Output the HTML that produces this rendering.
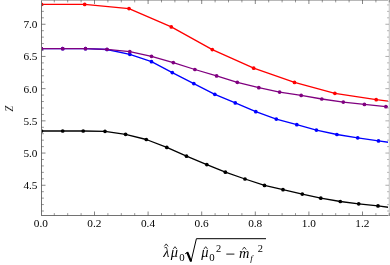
<!DOCTYPE html><html><head><meta charset="utf-8"><style>html,body{margin:0;padding:0;background:#fff;}svg{display:block}text{font-family:"Liberation Serif",serif;fill:#000}</style></head><body>
<svg style="will-change:transform" width="390" height="265" viewBox="0 0 390 265">
<rect width="390" height="265" fill="#fff"/>
<defs><clipPath id="pc"><rect x="41.5" y="0" width="349" height="215.5"/></clipPath></defs>
<g clip-path="url(#pc)">
<polyline fill="none" stroke="#000" stroke-width="1.3" stroke-linejoin="round" points="41.5,131.0 62.7,131.0 83.2,131.0 105.0,131.3 125.6,134.3 146.3,139.5 166.8,147.4 186.5,156.2 206.8,164.6 225.4,172.2 245.0,179.0 264.5,185.4 283.0,189.7 302.3,194.1 320.8,198.2 340.3,201.5 358.7,203.8 378.0,205.9 390.0,207.5"/>
<circle cx="41.5" cy="131.0" r="1.85" fill="#000"/>
<circle cx="62.7" cy="131.0" r="1.85" fill="#000"/>
<circle cx="83.2" cy="131.0" r="1.85" fill="#000"/>
<circle cx="105.0" cy="131.3" r="1.85" fill="#000"/>
<circle cx="125.6" cy="134.3" r="1.85" fill="#000"/>
<circle cx="146.3" cy="139.5" r="1.85" fill="#000"/>
<circle cx="166.8" cy="147.4" r="1.85" fill="#000"/>
<circle cx="186.5" cy="156.2" r="1.85" fill="#000"/>
<circle cx="206.8" cy="164.6" r="1.85" fill="#000"/>
<circle cx="225.4" cy="172.2" r="1.85" fill="#000"/>
<circle cx="245.0" cy="179.0" r="1.85" fill="#000"/>
<circle cx="264.5" cy="185.4" r="1.85" fill="#000"/>
<circle cx="283.0" cy="189.7" r="1.85" fill="#000"/>
<circle cx="302.3" cy="194.1" r="1.85" fill="#000"/>
<circle cx="320.8" cy="198.2" r="1.85" fill="#000"/>
<circle cx="340.3" cy="201.5" r="1.85" fill="#000"/>
<circle cx="358.7" cy="203.8" r="1.85" fill="#000"/>
<circle cx="378.0" cy="205.9" r="1.85" fill="#000"/>
<polyline fill="none" stroke="#0000ff" stroke-width="1.3" stroke-linejoin="round" points="41.5,48.7 62.7,48.7 85.5,48.7 107.0,49.5 129.8,54.3 151.5,61.7 172.3,72.6 193.8,83.6 214.8,94.3 235.3,102.9 255.8,111.7 276.3,119.1 296.8,124.7 316.4,130.1 336.9,134.5 357.7,137.8 378.5,140.9 390.0,142.5"/>
<circle cx="41.5" cy="48.7" r="1.85" fill="#0000ff"/>
<circle cx="62.7" cy="48.7" r="1.85" fill="#0000ff"/>
<circle cx="85.5" cy="48.7" r="1.85" fill="#0000ff"/>
<circle cx="107.0" cy="49.5" r="1.85" fill="#0000ff"/>
<circle cx="129.8" cy="54.3" r="1.85" fill="#0000ff"/>
<circle cx="151.5" cy="61.7" r="1.85" fill="#0000ff"/>
<circle cx="172.3" cy="72.6" r="1.85" fill="#0000ff"/>
<circle cx="193.8" cy="83.6" r="1.85" fill="#0000ff"/>
<circle cx="214.8" cy="94.3" r="1.85" fill="#0000ff"/>
<circle cx="235.3" cy="102.9" r="1.85" fill="#0000ff"/>
<circle cx="255.8" cy="111.7" r="1.85" fill="#0000ff"/>
<circle cx="276.3" cy="119.1" r="1.85" fill="#0000ff"/>
<circle cx="296.8" cy="124.7" r="1.85" fill="#0000ff"/>
<circle cx="316.4" cy="130.1" r="1.85" fill="#0000ff"/>
<circle cx="336.9" cy="134.5" r="1.85" fill="#0000ff"/>
<circle cx="357.7" cy="137.8" r="1.85" fill="#0000ff"/>
<circle cx="378.5" cy="140.9" r="1.85" fill="#0000ff"/>
<polyline fill="none" stroke="#800080" stroke-width="1.3" stroke-linejoin="round" points="41.5,48.7 62.7,48.7 85.5,48.7 107.0,49.3 129.8,51.7 151.5,56.3 173.3,62.6 194.9,69.5 216.6,75.9 237.3,82.3 258.8,87.7 279.6,92.1 301.2,95.4 321.8,99.0 343.3,102.1 364.4,104.4 385.9,106.7 390.0,107.1"/>
<circle cx="41.5" cy="48.7" r="1.85" fill="#800080"/>
<circle cx="62.7" cy="48.7" r="1.85" fill="#800080"/>
<circle cx="85.5" cy="48.7" r="1.85" fill="#800080"/>
<circle cx="107.0" cy="49.3" r="1.85" fill="#800080"/>
<circle cx="129.8" cy="51.7" r="1.85" fill="#800080"/>
<circle cx="151.5" cy="56.3" r="1.85" fill="#800080"/>
<circle cx="173.3" cy="62.6" r="1.85" fill="#800080"/>
<circle cx="194.9" cy="69.5" r="1.85" fill="#800080"/>
<circle cx="216.6" cy="75.9" r="1.85" fill="#800080"/>
<circle cx="237.3" cy="82.3" r="1.85" fill="#800080"/>
<circle cx="258.8" cy="87.7" r="1.85" fill="#800080"/>
<circle cx="279.6" cy="92.1" r="1.85" fill="#800080"/>
<circle cx="301.2" cy="95.4" r="1.85" fill="#800080"/>
<circle cx="321.8" cy="99.0" r="1.85" fill="#800080"/>
<circle cx="343.3" cy="102.1" r="1.85" fill="#800080"/>
<circle cx="364.4" cy="104.4" r="1.85" fill="#800080"/>
<circle cx="385.9" cy="106.7" r="1.85" fill="#800080"/>
<polyline fill="none" stroke="#ff0000" stroke-width="1.3" stroke-linejoin="round" points="41.5,4.4 84.7,4.4 129.0,8.6 171.3,26.9 212.3,49.6 253.7,68.2 294.5,82.4 334.9,93.3 376.2,99.7 390.0,101.4"/>
<circle cx="41.5" cy="4.4" r="1.85" fill="#ff0000"/>
<circle cx="84.7" cy="4.4" r="1.85" fill="#ff0000"/>
<circle cx="129.0" cy="8.6" r="1.85" fill="#ff0000"/>
<circle cx="171.3" cy="26.9" r="1.85" fill="#ff0000"/>
<circle cx="212.3" cy="49.6" r="1.85" fill="#ff0000"/>
<circle cx="253.7" cy="68.2" r="1.85" fill="#ff0000"/>
<circle cx="294.5" cy="82.4" r="1.85" fill="#ff0000"/>
<circle cx="334.9" cy="93.3" r="1.85" fill="#ff0000"/>
<circle cx="376.2" cy="99.7" r="1.85" fill="#ff0000"/>
</g>
<g stroke="#727272" stroke-width="1" fill="none">
<line x1="41.5" y1="0" x2="41.5" y2="216.0"/>
<line x1="41.0" y1="215.5" x2="390" y2="215.5"/>
</g>
<line x1="41.5" y1="0.5" x2="390" y2="0.5" stroke="#b8b8b8" stroke-width="1"/>
<line x1="389.5" y1="0" x2="389.5" y2="215.5" stroke="#d0d0d0" stroke-width="1"/>
<line x1="388.5" y1="0" x2="388.5" y2="215.5" stroke="#f0f0f0" stroke-width="1"/>
<g stroke="#505050" fill="none">
<line x1="54.30" y1="215.5" x2="54.30" y2="213.1" stroke-width="0.6"/>
<line x1="54.30" y1="0.0" x2="54.30" y2="2.4" stroke-width="0.6"/>
<line x1="67.70" y1="215.5" x2="67.70" y2="213.1" stroke-width="0.6"/>
<line x1="67.70" y1="0.0" x2="67.70" y2="2.4" stroke-width="0.6"/>
<line x1="81.10" y1="215.5" x2="81.10" y2="213.1" stroke-width="0.6"/>
<line x1="81.10" y1="0.0" x2="81.10" y2="2.4" stroke-width="0.6"/>
<line x1="94.50" y1="215.5" x2="94.50" y2="211.5" stroke-width="0.7"/>
<line x1="94.50" y1="0.0" x2="94.50" y2="4.0" stroke-width="0.7"/>
<line x1="107.90" y1="215.5" x2="107.90" y2="213.1" stroke-width="0.6"/>
<line x1="107.90" y1="0.0" x2="107.90" y2="2.4" stroke-width="0.6"/>
<line x1="121.30" y1="215.5" x2="121.30" y2="213.1" stroke-width="0.6"/>
<line x1="121.30" y1="0.0" x2="121.30" y2="2.4" stroke-width="0.6"/>
<line x1="134.70" y1="215.5" x2="134.70" y2="213.1" stroke-width="0.6"/>
<line x1="134.70" y1="0.0" x2="134.70" y2="2.4" stroke-width="0.6"/>
<line x1="148.10" y1="215.5" x2="148.10" y2="211.5" stroke-width="0.7"/>
<line x1="148.10" y1="0.0" x2="148.10" y2="4.0" stroke-width="0.7"/>
<line x1="161.50" y1="215.5" x2="161.50" y2="213.1" stroke-width="0.6"/>
<line x1="161.50" y1="0.0" x2="161.50" y2="2.4" stroke-width="0.6"/>
<line x1="174.90" y1="215.5" x2="174.90" y2="213.1" stroke-width="0.6"/>
<line x1="174.90" y1="0.0" x2="174.90" y2="2.4" stroke-width="0.6"/>
<line x1="188.30" y1="215.5" x2="188.30" y2="213.1" stroke-width="0.6"/>
<line x1="188.30" y1="0.0" x2="188.30" y2="2.4" stroke-width="0.6"/>
<line x1="201.70" y1="215.5" x2="201.70" y2="211.5" stroke-width="0.7"/>
<line x1="201.70" y1="0.0" x2="201.70" y2="4.0" stroke-width="0.7"/>
<line x1="215.10" y1="215.5" x2="215.10" y2="213.1" stroke-width="0.6"/>
<line x1="215.10" y1="0.0" x2="215.10" y2="2.4" stroke-width="0.6"/>
<line x1="228.50" y1="215.5" x2="228.50" y2="213.1" stroke-width="0.6"/>
<line x1="228.50" y1="0.0" x2="228.50" y2="2.4" stroke-width="0.6"/>
<line x1="241.90" y1="215.5" x2="241.90" y2="213.1" stroke-width="0.6"/>
<line x1="241.90" y1="0.0" x2="241.90" y2="2.4" stroke-width="0.6"/>
<line x1="255.30" y1="215.5" x2="255.30" y2="211.5" stroke-width="0.7"/>
<line x1="255.30" y1="0.0" x2="255.30" y2="4.0" stroke-width="0.7"/>
<line x1="268.70" y1="215.5" x2="268.70" y2="213.1" stroke-width="0.6"/>
<line x1="268.70" y1="0.0" x2="268.70" y2="2.4" stroke-width="0.6"/>
<line x1="282.10" y1="215.5" x2="282.10" y2="213.1" stroke-width="0.6"/>
<line x1="282.10" y1="0.0" x2="282.10" y2="2.4" stroke-width="0.6"/>
<line x1="295.50" y1="215.5" x2="295.50" y2="213.1" stroke-width="0.6"/>
<line x1="295.50" y1="0.0" x2="295.50" y2="2.4" stroke-width="0.6"/>
<line x1="308.90" y1="215.5" x2="308.90" y2="211.5" stroke-width="0.7"/>
<line x1="308.90" y1="0.0" x2="308.90" y2="4.0" stroke-width="0.7"/>
<line x1="322.30" y1="215.5" x2="322.30" y2="213.1" stroke-width="0.6"/>
<line x1="322.30" y1="0.0" x2="322.30" y2="2.4" stroke-width="0.6"/>
<line x1="335.70" y1="215.5" x2="335.70" y2="213.1" stroke-width="0.6"/>
<line x1="335.70" y1="0.0" x2="335.70" y2="2.4" stroke-width="0.6"/>
<line x1="349.10" y1="215.5" x2="349.10" y2="213.1" stroke-width="0.6"/>
<line x1="349.10" y1="0.0" x2="349.10" y2="2.4" stroke-width="0.6"/>
<line x1="362.50" y1="215.5" x2="362.50" y2="211.5" stroke-width="0.7"/>
<line x1="362.50" y1="0.0" x2="362.50" y2="4.0" stroke-width="0.7"/>
<line x1="375.90" y1="215.5" x2="375.90" y2="213.1" stroke-width="0.6"/>
<line x1="375.90" y1="0.0" x2="375.90" y2="2.4" stroke-width="0.6"/>
<line x1="389.30" y1="215.5" x2="389.30" y2="213.1" stroke-width="0.6"/>
<line x1="389.30" y1="0.0" x2="389.30" y2="2.4" stroke-width="0.6"/>
<line x1="41.5" y1="211.01" x2="43.9" y2="211.01" stroke-width="0.6"/>
<line x1="389.0" y1="211.01" x2="387.0" y2="211.01" stroke-width="0.6" stroke="#8c8c8c"/>
<line x1="41.5" y1="204.57" x2="43.9" y2="204.57" stroke-width="0.6"/>
<line x1="389.0" y1="204.57" x2="387.0" y2="204.57" stroke-width="0.6" stroke="#8c8c8c"/>
<line x1="41.5" y1="198.13" x2="43.9" y2="198.13" stroke-width="0.6"/>
<line x1="389.0" y1="198.13" x2="387.0" y2="198.13" stroke-width="0.6" stroke="#8c8c8c"/>
<line x1="41.5" y1="191.69" x2="43.9" y2="191.69" stroke-width="0.6"/>
<line x1="389.0" y1="191.69" x2="387.0" y2="191.69" stroke-width="0.6" stroke="#8c8c8c"/>
<line x1="41.5" y1="185.25" x2="45.5" y2="185.25" stroke-width="0.7"/>
<line x1="389.0" y1="185.25" x2="385.4" y2="185.25" stroke-width="0.7" stroke="#8c8c8c"/>
<line x1="41.5" y1="178.81" x2="43.9" y2="178.81" stroke-width="0.6"/>
<line x1="389.0" y1="178.81" x2="387.0" y2="178.81" stroke-width="0.6" stroke="#8c8c8c"/>
<line x1="41.5" y1="172.37" x2="43.9" y2="172.37" stroke-width="0.6"/>
<line x1="389.0" y1="172.37" x2="387.0" y2="172.37" stroke-width="0.6" stroke="#8c8c8c"/>
<line x1="41.5" y1="165.93" x2="43.9" y2="165.93" stroke-width="0.6"/>
<line x1="389.0" y1="165.93" x2="387.0" y2="165.93" stroke-width="0.6" stroke="#8c8c8c"/>
<line x1="41.5" y1="159.49" x2="43.9" y2="159.49" stroke-width="0.6"/>
<line x1="389.0" y1="159.49" x2="387.0" y2="159.49" stroke-width="0.6" stroke="#8c8c8c"/>
<line x1="41.5" y1="153.05" x2="45.5" y2="153.05" stroke-width="0.7"/>
<line x1="389.0" y1="153.05" x2="385.4" y2="153.05" stroke-width="0.7" stroke="#8c8c8c"/>
<line x1="41.5" y1="146.61" x2="43.9" y2="146.61" stroke-width="0.6"/>
<line x1="389.0" y1="146.61" x2="387.0" y2="146.61" stroke-width="0.6" stroke="#8c8c8c"/>
<line x1="41.5" y1="140.17" x2="43.9" y2="140.17" stroke-width="0.6"/>
<line x1="389.0" y1="140.17" x2="387.0" y2="140.17" stroke-width="0.6" stroke="#8c8c8c"/>
<line x1="41.5" y1="133.73" x2="43.9" y2="133.73" stroke-width="0.6"/>
<line x1="389.0" y1="133.73" x2="387.0" y2="133.73" stroke-width="0.6" stroke="#8c8c8c"/>
<line x1="41.5" y1="127.29" x2="43.9" y2="127.29" stroke-width="0.6"/>
<line x1="389.0" y1="127.29" x2="387.0" y2="127.29" stroke-width="0.6" stroke="#8c8c8c"/>
<line x1="41.5" y1="120.85" x2="45.5" y2="120.85" stroke-width="0.7"/>
<line x1="389.0" y1="120.85" x2="385.4" y2="120.85" stroke-width="0.7" stroke="#8c8c8c"/>
<line x1="41.5" y1="114.41" x2="43.9" y2="114.41" stroke-width="0.6"/>
<line x1="389.0" y1="114.41" x2="387.0" y2="114.41" stroke-width="0.6" stroke="#8c8c8c"/>
<line x1="41.5" y1="107.97" x2="43.9" y2="107.97" stroke-width="0.6"/>
<line x1="389.0" y1="107.97" x2="387.0" y2="107.97" stroke-width="0.6" stroke="#8c8c8c"/>
<line x1="41.5" y1="101.53" x2="43.9" y2="101.53" stroke-width="0.6"/>
<line x1="389.0" y1="101.53" x2="387.0" y2="101.53" stroke-width="0.6" stroke="#8c8c8c"/>
<line x1="41.5" y1="95.09" x2="43.9" y2="95.09" stroke-width="0.6"/>
<line x1="389.0" y1="95.09" x2="387.0" y2="95.09" stroke-width="0.6" stroke="#8c8c8c"/>
<line x1="41.5" y1="88.65" x2="45.5" y2="88.65" stroke-width="0.7"/>
<line x1="389.0" y1="88.65" x2="385.4" y2="88.65" stroke-width="0.7" stroke="#8c8c8c"/>
<line x1="41.5" y1="82.21" x2="43.9" y2="82.21" stroke-width="0.6"/>
<line x1="389.0" y1="82.21" x2="387.0" y2="82.21" stroke-width="0.6" stroke="#8c8c8c"/>
<line x1="41.5" y1="75.77" x2="43.9" y2="75.77" stroke-width="0.6"/>
<line x1="389.0" y1="75.77" x2="387.0" y2="75.77" stroke-width="0.6" stroke="#8c8c8c"/>
<line x1="41.5" y1="69.33" x2="43.9" y2="69.33" stroke-width="0.6"/>
<line x1="389.0" y1="69.33" x2="387.0" y2="69.33" stroke-width="0.6" stroke="#8c8c8c"/>
<line x1="41.5" y1="62.89" x2="43.9" y2="62.89" stroke-width="0.6"/>
<line x1="389.0" y1="62.89" x2="387.0" y2="62.89" stroke-width="0.6" stroke="#8c8c8c"/>
<line x1="41.5" y1="56.45" x2="45.5" y2="56.45" stroke-width="0.7"/>
<line x1="389.0" y1="56.45" x2="385.4" y2="56.45" stroke-width="0.7" stroke="#8c8c8c"/>
<line x1="41.5" y1="50.01" x2="43.9" y2="50.01" stroke-width="0.6"/>
<line x1="389.0" y1="50.01" x2="387.0" y2="50.01" stroke-width="0.6" stroke="#8c8c8c"/>
<line x1="41.5" y1="43.57" x2="43.9" y2="43.57" stroke-width="0.6"/>
<line x1="389.0" y1="43.57" x2="387.0" y2="43.57" stroke-width="0.6" stroke="#8c8c8c"/>
<line x1="41.5" y1="37.13" x2="43.9" y2="37.13" stroke-width="0.6"/>
<line x1="389.0" y1="37.13" x2="387.0" y2="37.13" stroke-width="0.6" stroke="#8c8c8c"/>
<line x1="41.5" y1="30.69" x2="43.9" y2="30.69" stroke-width="0.6"/>
<line x1="389.0" y1="30.69" x2="387.0" y2="30.69" stroke-width="0.6" stroke="#8c8c8c"/>
<line x1="41.5" y1="24.25" x2="45.5" y2="24.25" stroke-width="0.7"/>
<line x1="389.0" y1="24.25" x2="385.4" y2="24.25" stroke-width="0.7" stroke="#8c8c8c"/>
<line x1="41.5" y1="17.81" x2="43.9" y2="17.81" stroke-width="0.6"/>
<line x1="389.0" y1="17.81" x2="387.0" y2="17.81" stroke-width="0.6" stroke="#8c8c8c"/>
<line x1="41.5" y1="11.37" x2="43.9" y2="11.37" stroke-width="0.6"/>
<line x1="389.0" y1="11.37" x2="387.0" y2="11.37" stroke-width="0.6" stroke="#8c8c8c"/>
<line x1="41.5" y1="4.93" x2="43.9" y2="4.93" stroke-width="0.6"/>
<line x1="389.0" y1="4.93" x2="387.0" y2="4.93" stroke-width="0.6" stroke="#8c8c8c"/>
</g>
<g font-size="11.3px">
<text x="40.8" y="226.8" text-anchor="middle">0.0</text>
<text x="94.4" y="226.8" text-anchor="middle">0.2</text>
<text x="148.0" y="226.8" text-anchor="middle">0.4</text>
<text x="201.6" y="226.8" text-anchor="middle">0.6</text>
<text x="255.2" y="226.8" text-anchor="middle">0.8</text>
<text x="308.8" y="226.8" text-anchor="middle">1.0</text>
<text x="362.4" y="226.8" text-anchor="middle">1.2</text>
<text x="37.5" y="189.1" text-anchor="end">4.5</text>
<text x="37.5" y="156.9" text-anchor="end">5.0</text>
<text x="37.5" y="124.7" text-anchor="end">5.5</text>
<text x="37.5" y="92.5" text-anchor="end">6.0</text>
<text x="37.5" y="60.3" text-anchor="end">6.5</text>
<text x="37.5" y="28.1" text-anchor="end">7.0</text>
</g>
<text font-size="16px" font-style="italic" text-anchor="middle" stroke="#fff" stroke-width="0.2" transform="translate(12.8,108.3) rotate(-90)">z</text>
<g font-style="italic" font-size="14.4px">
<text x="163.3" y="257.4">λ</text>
<text x="170.8" y="257.4">μ</text>
<text x="201.3" y="257.4">μ</text>
<text x="238.9" y="257.7">m</text>
<text x="250.3" y="260.9" font-size="9px">f</text>
</g>
<g font-size="10.8px">
<text x="179.2" y="261.0">0</text>
<text x="209.2" y="261.0">0</text>
<text x="215.9" y="252.1" font-size="10.4px">2</text>
<text x="257.7" y="252.1" font-size="10.4px">2</text>
</g>
<line x1="226.3" y1="254.1" x2="234.4" y2="254.1" stroke="#000" stroke-width="0.9"/>
<polyline fill="none" stroke="#000" stroke-width="0.8" points="164.3,246.4 166.2,243.9 168.1,246.4"/>
<polyline fill="none" stroke="#000" stroke-width="0.8" points="173.1,249.2 175.0,246.7 176.9,249.2"/>
<polyline fill="none" stroke="#000" stroke-width="0.8" points="203.8,249.2 205.7,246.7 207.6,249.2"/>
<polyline fill="none" stroke="#000" stroke-width="0.8" points="242.4,249.6 244.3,247.1 246.2,249.6"/>
<path d="M185.2,253.8 L187.4,252.3 L191.0,261.6 L196.4,238.7 L266,238.7" fill="none" stroke="#000" stroke-width="1"/>
<path d="M187.2,252.2 L191.0,261.3" fill="none" stroke="#000" stroke-width="2.2"/>
</svg></body></html>
